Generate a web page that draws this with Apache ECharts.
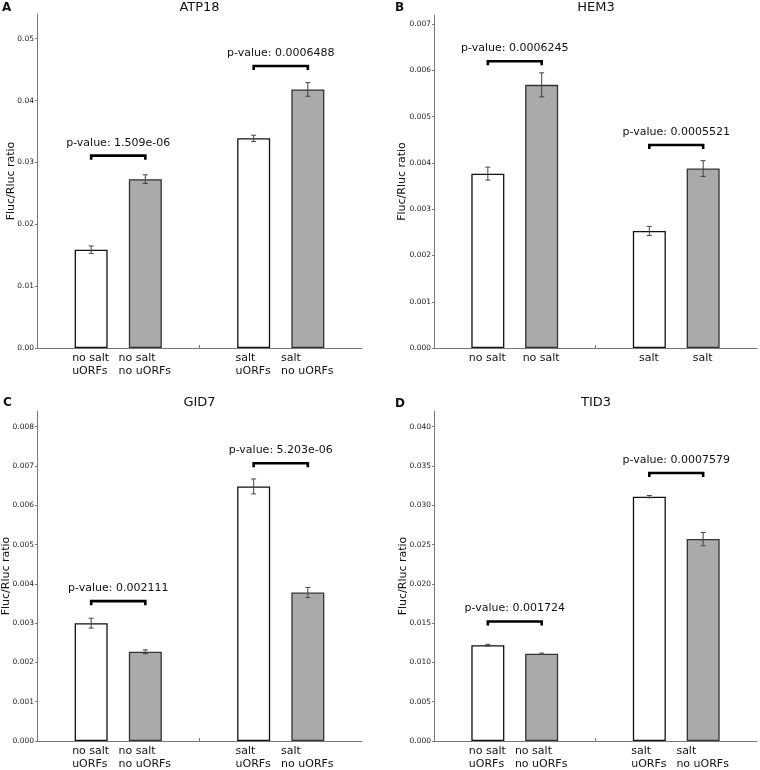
<!DOCTYPE html>
<html><head><meta charset="utf-8">
<script src="https://cdn.jsdelivr.net/npm/echarts@6/dist/echarts.min.js"></script>
<style>html,body{margin:0;padding:0;background:#fff}#c{width:760px;height:770px}</style>
</head><body><div id="c"></div>
<script>
// ---------- DATA ----------
const panelTitles = ['ATP18', 'HEM3', 'GID7', 'TID3'];
const panelLetters = ['A', 'B', 'C', 'D'];

const categoriesFull = ['', 'no salt\nuORFs', 'no salt\nno uORFs', '', 'salt\nuORFs', 'salt\nno uORFs', ''];
const categoriesHEM3 = ['', 'no salt', 'no salt', '', 'salt', 'salt', ''];

const valuesATP18 = [null, 0.0159, 0.0273, null, 0.0339, 0.0418, null];
const errorsATP18 = [null, 0.0006, 0.0007, null, 0.0005, 0.0011, null];
const valuesHEM3  = [null, 0.00377, 0.00569, null, 0.00253, 0.00388, null];
const errorsHEM3  = [null, 0.00014, 0.00026, null, 0.00010, 0.00017, null];
const valuesGID7  = [null, 0.00300, 0.00227, null, 0.00648, 0.00378, null];
const errorsGID7  = [null, 0.000125, 0.00005, null, 0.00019, 0.00013, null];
const valuesTID3  = [null, 0.0122, 0.0111, null, 0.0311, 0.0257, null];
const errorsTID3  = [null, 0.0001, 0.00008, null, 0.00015, 0.00084, null];

const pvaluesATP18 = ['1.509e-06', '0.0006488'];
const pvaluesHEM3  = ['0.0006245', '0.0005521'];
const pvaluesGID7  = ['0.002111', '5.203e-06'];
const pvaluesTID3  = ['0.001724', '0.0007579'];

const bracketLevelsATP18 = [0.0311, 0.0456];
const bracketLevelsHEM3  = [0.00620, 0.00439];
const bracketLevelsGID7  = [0.00356, 0.00707];
const bracketLevelsTID3  = [0.0152, 0.0341];

const yTickLabelsATP18 = ['0.00', '0.01', '0.02', '0.03', '0.04', '0.05'];
const yTickLabelsHEM3  = ['0.000', '0.001', '0.002', '0.003', '0.004', '0.005', '0.006', '0.007'];
const yTickLabelsGID7  = ['0.000', '0.001', '0.002', '0.003', '0.004', '0.005', '0.006', '0.007', '0.008'];
const yTickLabelsTID3  = ['0.000', '0.005', '0.010', '0.015', '0.020', '0.025', '0.030', '0.035', '0.040'];
const yMaxes = [0.054, 0.0072, 0.0084, 0.042];

// ---------- LAYOUT / STYLE ----------
const FONT = '"DejaVu Sans", sans-serif';
const grids = [
  {left: 37, top: 14, width: 325, height: 334},
  {left: 434, top: 15, width: 324, height: 333},
  {left: 37, top: 411, width: 325, height: 333},
  {left: 434, top: 411, width: 324, height: 333}
];
const titleTops = [1, 1, 396, 396];
const letterTops = [2, 2, 397, 398];
const letterLefts = [2, 395, 3, 395];
const nameGaps = [20.5, 26, 25, 25];
const panels = [
  {cats: categoriesFull, vals: valuesATP18, errs: errorsATP18, pv: pvaluesATP18, br: bracketLevelsATP18, yl: yTickLabelsATP18},
  {cats: categoriesHEM3, vals: valuesHEM3, errs: errorsHEM3, pv: pvaluesHEM3, br: bracketLevelsHEM3, yl: yTickLabelsHEM3},
  {cats: categoriesFull, vals: valuesGID7, errs: errorsGID7, pv: pvaluesGID7, br: bracketLevelsGID7, yl: yTickLabelsGID7},
  {cats: categoriesFull, vals: valuesTID3, errs: errorsTID3, pv: pvaluesTID3, br: bracketLevelsTID3, yl: yTickLabelsTID3}
];
const bracketPairs = [[1, 2], [4, 5]];

const mctx = document.createElement('canvas').getContext('2d');
mctx.font = '11px "DejaVu Sans"';
function blockWidth(s) {
  return Math.max.apply(null, s.split('\n').map(l => mctx.measureText(l).width)) + 1;
}

const title = [], grid = [], xAxis = [], yAxis = [], series = [];
panels.forEach((p, i) => {
  const g = grids[i];
  grid.push({left: g.left, top: g.top, width: g.width, height: g.height, containLabel: false});
  title.push({text: panelTitles[i], left: g.left + g.width / 2, top: titleTops[i], textAlign: 'center', padding: 0,
    textStyle: {fontSize: 13, fontWeight: 'normal', color: '#111', fontFamily: FONT}});
  title.push({text: panelLetters[i], left: letterLefts[i], top: letterTops[i], padding: 0,
    textStyle: {fontSize: 12, fontWeight: 'bold', color: '#111', fontFamily: FONT}});

  const rich = {};
  p.cats.forEach((c, k) => {
    rich['r' + k] = {width: c ? blockWidth(c) : 1, align: 'left', fontSize: 11, lineHeight: 13, color: '#111', fontFamily: FONT};
  });
  xAxis.push({
    gridIndex: i, type: 'category', data: p.cats, boundaryGap: false,
    axisLine: {lineStyle: {color: '#777', width: 1}},
    axisTick: {inside: true, length: 3, lineStyle: {color: '#777'}, interval: (idx) => idx > 0 && idx < p.cats.length - 1},
    axisLabel: {interval: 0, margin: 4,
      formatter: (v, idx) => v ? v.split('\n').map(l => '{r' + idx + '|' + l + '}').join('\n') : '',
      rich: rich},
    splitLine: {show: false}
  });
  const ticks = p.yl.map(Number);
  yAxis.push({
    gridIndex: i, type: 'value', min: 0, max: yMaxes[i],
    splitLine: {show: false},
    axisLine: {show: true, lineStyle: {color: '#777', width: 1}},
    axisTick: {show: true, length: 2, customValues: ticks, lineStyle: {color: '#777'}},
    axisLabel: {customValues: ticks, margin: 3, fontSize: 7.5, color: '#222', fontFamily: FONT,
      formatter: (v) => { const k = ticks.findIndex(t => Math.abs(t - v) < 1e-9); return k >= 0 ? p.yl[k] : ''; }},
    name: 'Fluc/Rluc ratio', nameLocation: 'middle', nameGap: nameGaps[i], nameMoveOverlap: false,
    nameTextStyle: {fontSize: 11, color: '#111', fontFamily: FONT}
  });

  series.push({
    type: 'bar', xAxisIndex: i, yAxisIndex: i, barWidth: 33,
    data: p.vals.map((v, k) => v == null ? '-' : {
      value: v,
      itemStyle: (k === 1 || k === 4)
        ? {color: '#ffffff', borderColor: '#111', borderWidth: 1.3}
        : {color: '#aaaaaa', borderColor: '#333', borderWidth: 1.3}
    }),
    silent: true, animation: false
  });

  series.push({
    type: 'custom', xAxisIndex: i, yAxisIndex: i, z: 5, silent: true, animation: false,
    encode: {x: 0, y: [1, 2]},
    data: p.vals.map((v, k) => v == null ? null : [k, v - p.errs[k], v + p.errs[k]]).filter(d => d),
    renderItem: (params, api) => {
      const lo = api.coord([api.value(0), api.value(1)]);
      const hi = api.coord([api.value(0), api.value(2)]);
      const cw = 2.5, st = {stroke: '#444', lineWidth: 1};
      return {type: 'group', children: [
        {type: 'line', shape: {x1: lo[0], y1: lo[1], x2: hi[0], y2: hi[1]}, style: st},
        {type: 'line', shape: {x1: lo[0] - cw, y1: lo[1], x2: lo[0] + cw, y2: lo[1]}, style: st},
        {type: 'line', shape: {x1: hi[0] - cw, y1: hi[1], x2: hi[0] + cw, y2: hi[1]}, style: st}
      ]};
    }
  });

  series.push({
    type: 'custom', xAxisIndex: i, yAxisIndex: i, z: 6, silent: true, animation: false,
    encode: {x: [0, 1], y: 2},
    data: bracketPairs.map((bp, k) => [bp[0], bp[1], p.br[k]]),
    renderItem: (params, api) => {
      const a = api.coord([api.value(0), api.value(2)]);
      const b = api.coord([api.value(1), api.value(2)]);
      const leg = 4;
      return {type: 'group', children: [
        {type: 'polyline', shape: {points: [[a[0], a[1] + leg], [a[0], a[1]], [b[0], b[1]], [b[0], b[1] + leg]]},
          style: {stroke: '#000', lineWidth: 2.6, fill: null}},
        {type: 'text', x: (a[0] + b[0]) / 2, y: a[1] - 13,
          style: {text: 'p-value: ' + p.pv[params.dataIndex], align: 'center', verticalAlign: 'middle',
            fontSize: 11, fontFamily: FONT, fill: '#111'}}
      ]};
    }
  });
});

const chart = echarts.init(document.getElementById('c'), null, {renderer: 'canvas'});
chart.setOption({
  animation: false,
  backgroundColor: '#fff',
  textStyle: {fontFamily: FONT},
  title, grid, xAxis, yAxis, series
});
</script></body></html>
